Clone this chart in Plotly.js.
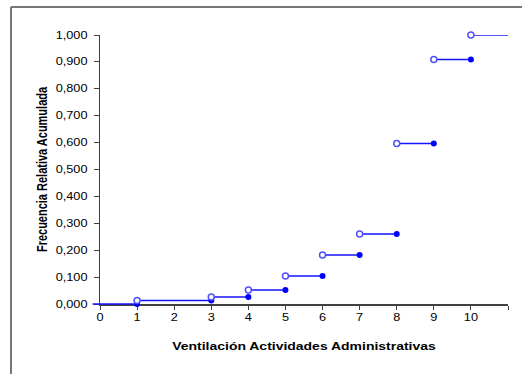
<!DOCTYPE html>
<html>
<head>
<meta charset="utf-8">
<script src="https://cdn.plot.ly/plotly-3.0.1.min.js"></script>
<style>html,body{margin:0;padding:0;background:#fff;}#chart{width:522px;height:374px;}</style>
</head>
<body>
<div id="chart"></div>
<script>
// Data
const xTickVals = [0, 1, 2, 3, 4, 5, 6, 7, 8, 9, 10, 11];
const xTickText = ["0", "1", "2", "3", "4", "5", "6", "7", "8", "9", "10", ""];
const stepStart = [-0.2, 1, 3, 4, 5, 6, 7, 8, 9, 10];
const stepEnd   = [1, 3, 4, 5, 6, 7, 8, 9, 10, 11];
const cumFreq   = [0.000, 0.013, 0.026, 0.052, 0.104, 0.182, 0.260, 0.597, 0.909, 1.000];
const yTickVals = [0, 0.1, 0.2, 0.3, 0.4, 0.5, 0.6, 0.7, 0.8, 0.9, 1.0];

const lineX = [], lineY = [];
for (let i = 0; i < stepStart.length; i++) {
  lineX.push(stepStart[i], stepEnd[i], null);
  lineY.push(cumFreq[i], cumFreq[i], null);
}
const openX = stepStart.slice(1), openY = cumFreq.slice(1);
const fillX = stepEnd.slice(0, -1), fillY = cumFreq.slice(0, -1);

// geometry: visible axes (x, y) and a slightly larger hidden twin (x2, y2) for the marks
const W = 522, H = 374, ML = 88, MR = 14, MT = 35, MB = 64;
const plotW = W - ML - MR, plotH = H - MT - MB;
const mainLeftPx = 100, mainBottomPx = 304;
const xMax = 11, yMax = 1;
const ux = (W - MR - mainLeftPx) / xMax;
const uy = (mainBottomPx - MT) / yMax;
const x2Min = xMax - plotW / ux;
const y2Min = yMax - plotH / uy;

const traces = [
  {x: [], y: [], mode: 'markers', showlegend: false, hoverinfo: 'skip'},
  {x: lineX, y: lineY, xaxis: 'x2', yaxis: 'y2', mode: 'lines',
   line: {color: '#1414ff', width: 1.5}, hoverinfo: 'skip', showlegend: false},
  {x: fillX, y: fillY, xaxis: 'x2', yaxis: 'y2', mode: 'markers', cliponaxis: false, showlegend: false,
   marker: {symbol: 'circle', size: 6, color: '#0000ff', line: {width: 0}}},
  {x: openX, y: openY, xaxis: 'x2', yaxis: 'y2', mode: 'markers', cliponaxis: false, showlegend: false,
   marker: {symbol: 'circle', size: 6, color: '#ffffff', line: {color: '#5050ff', width: 1.5}}}
];

const fontFam = '"Liberation Sans", Arial, sans-serif';
const titleFont = {family: fontFam, size: 11, color: '#000', weight: 'bold'};
const tickFont = {family: fontFam, size: 10, color: '#000'};
const layout = {
  width: W, height: H,
  margin: {l: ML, r: MR, t: MT, b: MB},
  paper_bgcolor: '#ffffff', plot_bgcolor: 'rgba(0,0,0,0)',
  separators: ',.',
  font: {family: fontFam, size: 10, color: '#000000'},
  showlegend: false,
  xaxis: {
    domain: [(mainLeftPx - ML) / plotW, 1], anchor: 'y',
    range: [0, xMax], tickmode: 'array', tickvals: xTickVals, ticktext: xTickText,
    showgrid: false, zeroline: false, showline: true, linecolor: '#404040', linewidth: 1.5,
    ticks: 'outside', ticklen: 4, tickcolor: '#404040', tickwidth: 1, layer: 'below traces',
    tickfont: tickFont,
    title: {text: 'Ventilación Actividades Administrativas', font: titleFont, standoff: 20}
  },
  yaxis: {
    domain: [(H - MB - mainBottomPx) / plotH, 1], anchor: 'x',
    range: [0, yMax], tickmode: 'array', tickvals: yTickVals, tickformat: ',.3f',
    showgrid: false, zeroline: false, showline: true, linecolor: '#404040', linewidth: 1.5,
    ticks: 'outside', ticklen: 5, tickcolor: '#404040', tickwidth: 1, layer: 'below traces',
    ticklabelstandoff: 4,
    tickfont: tickFont,
    title: {text: 'Frecuencia Relativa Acumulada', font: titleFont, standoff: 12}
  },
  xaxis2: {domain: [0, 1], range: [x2Min, xMax], anchor: 'y2', visible: false, showgrid: false, zeroline: false},
  yaxis2: {domain: [0, 1], range: [y2Min, yMax], anchor: 'x2', visible: false, showgrid: false, zeroline: false},
  shapes: [
    {type: 'line', xref: 'paper', yref: 'paper', x0: (11 - ML) / plotW, x1: (11 - ML) / plotW,
     y0: -0.3, y1: (H - MB - 7) / plotH, line: {color: '#777777', width: 2}},
    {type: 'line', xref: 'paper', yref: 'paper', x0: (11 - ML) / plotW, x1: 1.1,
     y0: (H - MB - 7) / plotH, y1: (H - MB - 7) / plotH, line: {color: '#777777', width: 2}}
  ]
};

// the reference text is drawn horizontally widened
const SX = 1.27;
function widen(el, prepend) {
  const x = parseFloat(el.getAttribute('x')) || 0;
  const y = parseFloat(el.getAttribute('y')) || 0;
  const t = el.getAttribute('transform') || '';
  const s = `translate(${x},${y}) scale(${SX},1) translate(${-x},${-y})`;
  el.setAttribute('transform', prepend ? (s + ' ' + t) : (t + ' ' + s));
}

Plotly.newPlot('chart', traces, layout, {displayModeBar: false, staticPlot: true}).then(gd => {
  gd.querySelectorAll('.xtick text, .ytick text, .g-xtitle text').forEach(el => widen(el, false));
  gd.querySelectorAll('.g-ytitle text').forEach(el => widen(el, true));
});
</script>
</body>
</html>
